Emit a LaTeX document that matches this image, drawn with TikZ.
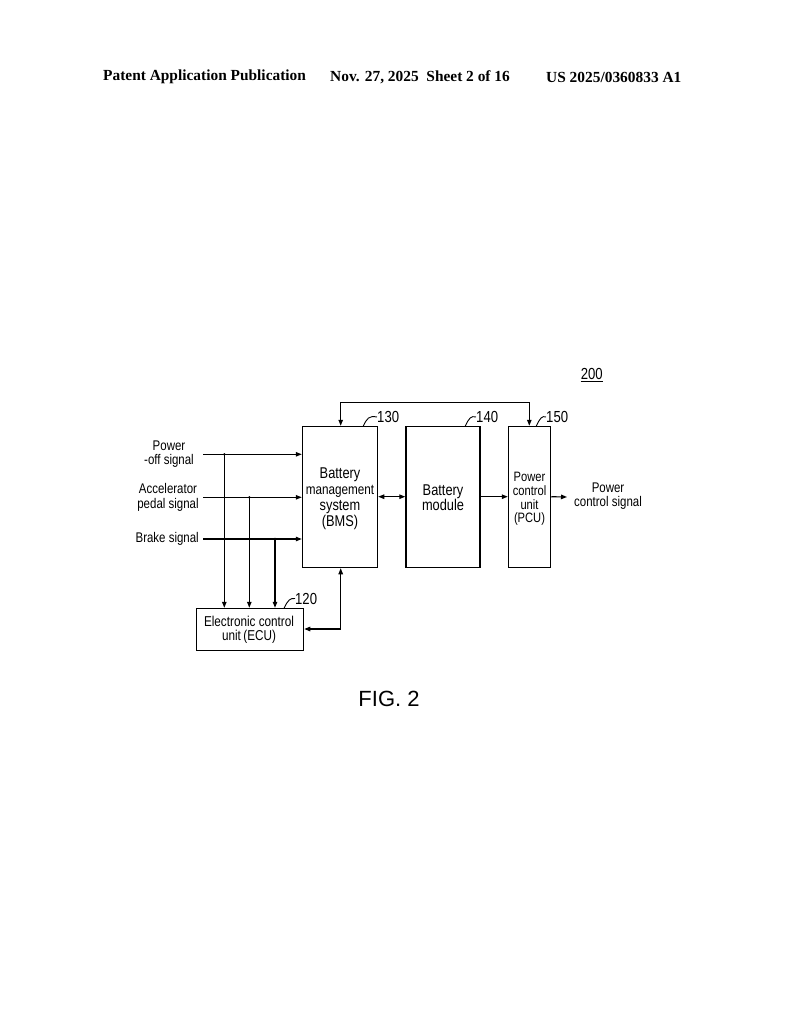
\documentclass[tikz,border=0pt]{standalone}
\usepackage{fontspec}
\setmainfont{Liberation Sans}
\newfontfamily\diagfont[FakeStretch=0.82]{Liberation Sans}
\newfontfamily\headfont{Liberation Serif}
\usetikzlibrary{arrows.meta}
\tikzset{
  blk/.style={draw, line width=1.5pt, inner sep=0pt},
  wire/.style={line width=1.1pt},
  arr/.style={wire, -{Triangle[length=6pt,width=4.5pt]}},
  darr/.style={wire, {Triangle[length=6pt,width=4.5pt]}-{Triangle[length=6pt,width=4.5pt]}},
  lbl/.style={font=\diagfont\fontsize{14}{14.5}\selectfont, align=center, inner sep=0pt},
  refnum/.style={font=\diagfont\fontsize{16}{16}\selectfont, inner sep=0pt},
  leader/.style={line width=0.9pt},
  dot/.style={circle, fill, inner sep=0pt, minimum size=2.6pt},
  hdr/.style={font=\headfont\bfseries\fontsize{15.4}{15.4}\selectfont, anchor=west, inner sep=0pt},
}
\begin{document}
\begin{tikzpicture}[x=1pt,y=-1pt]
\useasboundingbox (0,0) rectangle (794,1024);
% header
\node[hdr] (h1) at (103,77) {Patent Application Publication};
\node[hdr] (h2) at (330,77) {Nov. 27, 2025\ \ Sheet 2 of 16};
\node[hdr] (h3) at (546,77) {US 2025/0360833 A1};
% blocks
\node[blk, minimum width=75pt, minimum height=141pt] (bms) at (340,497) {};
\node[lbl, font=\diagfont\fontsize{15.6}{16}\selectfont] (bmst) at (340,498.5) {Battery\\[-0.5pt]{\fontsize{14.3}{16}\selectfont management}\\system\\(BMS)};
\node[blk, minimum width=74pt, minimum height=141pt] (bm) at (443,497) {};
\node[lbl, font=\diagfont\fontsize{15.6}{15.5}\selectfont] (bmt) at (443,497.5) {Battery\\module};
\node[blk, minimum width=42pt, minimum height=141pt] (pcu) at (529.5,497) {};
\node[lbl, font=\diagfont\fontsize{13.6}{13.8}\selectfont] (pcut) at (529.5,499) {Power\\control\\unit\\(PCU)};
\node[blk, minimum width=107pt, minimum height=42pt] (ecu) at (250,629.5) {};
\node[lbl, font=\diagfont\fontsize{14.3}{14.5}\selectfont] (ecut) at (249,630) {Electronic control\\unit\,(ECU)};
% input labels
\node[lbl] (pwr) at (169,454) {Power\\-off signal};
\node[lbl] (acc) at (168,497.5) {Accelerator\\pedal signal};
\node[lbl, anchor=east] (brk) at (199,539) {Brake signal};
\node[lbl, anchor=west] (out) at (574,496) {Power\\control signal};
% coordinates
\coordinate (s1) at (203,454.3);
\coordinate (s2) at (203,497.3);
\coordinate (s3) at (203,539);
\coordinate (j1) at (224.3,454.3);
\coordinate (j2) at (249.3,497.3);
\coordinate (j3) at (275,539);
\coordinate (top1) at (340.7,402.7);
\coordinate (top2) at (529.3,402.7);
\coordinate (bot) at (340.7,629);
\coordinate (oend) at (567,497);
% signal lines
\draw[arr] (s1) -- (s1 -| bms.west);
\draw[arr] (s2) -- (s2 -| bms.west);
\draw[arr] (s3) -- (s3 -| bms.west);
\draw[arr] (j1) -- (j1 |- ecu.north);
\draw[arr] (j2) -- (j2 |- ecu.north);
\draw[arr] (j3) -- (j3 |- ecu.north);
\node[dot] at (j1) {};
\node[dot] at (j2) {};
\node[dot] at (j3) {};
% BMS <-> PCU top loop
\draw[darr] (top1 |- bms.north) -- (top1) -- (top2) -- (top2 |- pcu.north);
% ECU <-> BMS
\draw[darr] (bot -| ecu.east) -- (bot) -- (bot |- bms.south);
% BMS <-> battery module
\draw[darr] (bms.east |- 0,496.7) -- (bm.west |- 0,496.7);
\draw[arr] (bm.east |- 0,496.7) -- (pcu.west |- 0,496.7);
\draw[arr] (pcu.east |- 0,496.7) -- (oend);
% reference numerals
\node[refnum] (n200) at (591.7,373.5) {200};
\draw[line width=0.9pt] (n200.south west) ++(0,2) -- ([yshift=-2pt]n200.south east);
\node[refnum, anchor=west] (n130) at (377,417) {130};
\node[refnum, anchor=west] (n140) at (476,417) {140};
\node[refnum, anchor=west] (n150) at (546,417) {150};
\node[refnum, anchor=west] (n120) at (295,598.5) {120};
\draw[leader] (363,426.7) .. controls (367,418) and (369,415.5) .. (n130.west);
\draw[leader] (465,426.7) .. controls (469,418) and (471,415.5) .. (n140.west);
\draw[leader] (536,426.7) .. controls (540,418) and (542,415.5) .. (n150.west);
\draw[leader] (284,608.3) .. controls (288,600) and (290,598) .. (n120.west);
% caption
\node[font=\fontsize{22}{22}\selectfont, inner sep=0pt] (fig) at (389,698.5) {FIG. 2};
\end{tikzpicture}
\end{document}
